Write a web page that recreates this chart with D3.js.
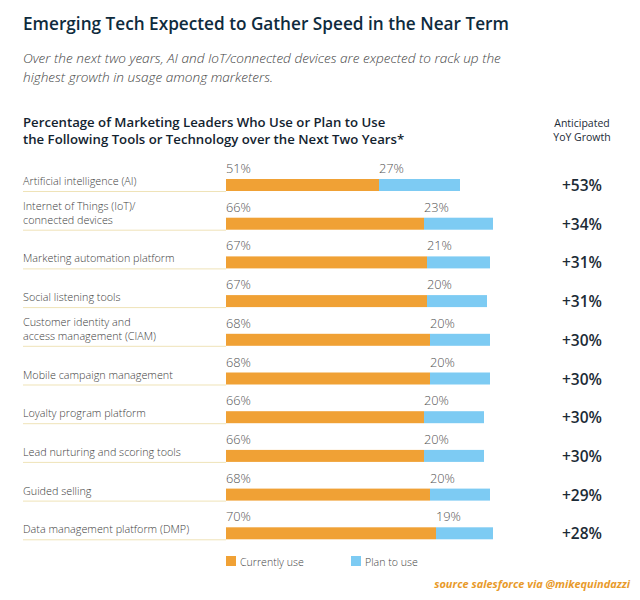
<!DOCTYPE html>
<html>
<head>
<meta charset="utf-8">
<script src="https://cdn.jsdelivr.net/npm/d3@7"></script>
<style>
  html, body { margin: 0; padding: 0; background: #fff; }
  svg { display: block; }
</style>
</head>
<body>
<svg id="chart" width="640" height="600"></svg>
<script>
const categories = [
  ["Artificial intelligence (AI)"],
  ["Internet of Things (IoT)/", "connected devices"],
  ["Marketing automation platform"],
  ["Social listening tools"],
  ["Customer identity and", "access management (CIAM)"],
  ["Mobile campaign management"],
  ["Loyalty program platform"],
  ["Lead nurturing and scoring tools"],
  ["Guided selling"],
  ["Data management platform (DMP)"]
];
const currentlyUse = [51, 66, 67, 67, 68, 68, 66, 66, 68, 70];
const planToUse    = [27, 23, 21, 20, 20, 20, 20, 20, 20, 19];
const yoyGrowth    = ["+53%", "+34%", "+31%", "+31%", "+30%", "+30%", "+30%", "+30%", "+29%", "+28%"];
const seriesNames  = ["Currently use", "Plan to use"];
const titleText    = "Emerging Tech Expected to Gather Speed in the Near Term";
const subtitleLines = [
  "Over the next two years, AI and IoT/connected devices are expected to rack up the",
  "highest growth in usage among marketers."
];
const headingLines = [
  "Percentage of Marketing Leaders Who Use or Plan to Use",
  "the Following Tools or Technology over the Next Two Years*"
];
const growthHeader = ["Anticipated", "YoY Growth"];
const sourceText = "source salesforce via @mikequindazzi";

const colors = { cur: "#f0a135", plan: "#7dcbf3" };
const FONT = "'Open Sans', 'Noto Sans', sans-serif";

const svg = d3.select("#chart");
const rows = categories.map((c, i) => ({ key: c.join(" "), lines: c, cur: currentlyUse[i], plan: planToUse[i], g: yoyGrowth[i] }));

const x = d3.scaleLinear().domain([0, 100]).range([226, 526]);
const y = d3.scaleBand().domain(rows.map(d => d.key)).range([179, 539.3]).paddingInner(0.69).paddingOuter(0);
const bh = y.bandwidth();

// title
svg.append("text").attr("x", 23).attr("y", 30)
  .attr("font-family", FONT).attr("font-weight", 600).attr("font-size", 17.2)
  .attr("fill", "#0e2b3d").text(titleText);

svg.append("g").selectAll("text").data(subtitleLines).join("text")
  .attr("x", 23).attr("y", (d, i) => 63 + i * 18.5)
  .attr("font-family", FONT).attr("font-style", "italic").attr("font-weight", 300).attr("font-size", 13.6)
  .attr("fill", "#444").text(d => d);

svg.append("g").selectAll("text").data(headingLines).join("text")
  .attr("x", 23).attr("y", (d, i) => 127 + i * 16.5)
  .attr("font-family", FONT).attr("font-weight", 600).attr("font-size", 13.2)
  .attr("fill", "#13232f").text(d => d);

svg.append("g").selectAll("text").data(growthHeader).join("text")
  .attr("x", 582).attr("y", (d, i) => 127 + i * 13.5)
  .attr("text-anchor", "middle")
  .attr("font-family", FONT).attr("font-weight", 400).attr("font-size", 10.5)
  .attr("fill", "#1c2b36").text(d => d);

const row = svg.append("g").selectAll("g").data(rows).join("g")
  .attr("transform", d => `translate(0,${y(d.key)})`);

// underline
row.append("line")
  .attr("x1", 23).attr("x2", x(0)).attr("y1", bh + 0.5).attr("y2", bh + 0.5)
  .attr("stroke", "#efe3b8").attr("stroke-width", 1);

// category labels
row.append("text")
  .attr("font-family", FONT).attr("font-weight", 300).attr("font-size", 10.8)
  .attr("fill", "#3d3d3d")
  .selectAll("tspan").data(d => d.lines.map((t, i, a) => ({ t, off: (i - (a.length - 1)) * 14 }))).join("tspan")
  .attr("x", 23).attr("y", d => 6 + d.off).text(d => d.t);

// bars
row.append("rect").attr("x", x(0)).attr("y", 0).attr("height", bh)
  .attr("width", d => x(d.cur) - x(0)).attr("fill", colors.cur);
row.append("rect").attr("x", d => x(d.cur)).attr("y", 0).attr("height", bh)
  .attr("width", d => x(d.cur + d.plan) - x(d.cur)).attr("fill", colors.plan);

// value labels
row.append("text").attr("x", x(0)).attr("y", -6)
  .attr("font-family", FONT).attr("font-weight", 300).attr("font-size", 12.8)
  .attr("fill", "#555").text(d => d.cur + "%");
row.append("text").attr("x", d => x(d.cur)).attr("y", -6)
  .attr("font-family", FONT).attr("font-weight", 300).attr("font-size", 12.8)
  .attr("fill", "#555").text(d => d.plan + "%");

// growth
row.append("text").attr("x", 582).attr("y", bh / 2 + 6)
  .attr("text-anchor", "middle")
  .attr("font-family", FONT).attr("font-weight", 600).attr("font-size", 15.5)
  .attr("fill", "#1c2b36").text(d => d.g);

// legend
const legend = svg.append("g").attr("transform", "translate(226,556)");
const li = legend.selectAll("g").data(seriesNames).join("g")
  .attr("transform", (d, i) => `translate(${i * 125},0)`);
li.append("rect").attr("width", 10).attr("height", 10).attr("fill", (d, i) => i === 0 ? colors.cur : colors.plan);
li.append("text").attr("x", 14).attr("y", 9.5)
  .attr("font-family", FONT).attr("font-weight", 300).attr("font-size", 10.6)
  .attr("fill", "#444").text(d => d);

svg.append("text").attr("x", 630).attr("y", 588).attr("text-anchor", "end")
  .attr("font-family", FONT).attr("font-weight", 700).attr("font-style", "italic").attr("font-size", 11)
  .attr("fill", "#e89a2a").text(sourceText);
</script>
</body>
</html>
